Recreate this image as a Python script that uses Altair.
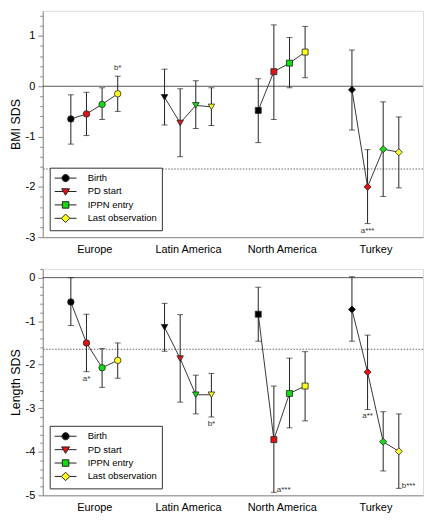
import json
import altair as alt
import numpy as np
import pandas as pd

regions = ["Europe", "Latin America", "North America", "Turkey"]
times = ["Birth", "PD start", "IPPN entry", "Last observation"]

# BMI SDS (mean, lower, upper) per region x time point
bmi_mean = [-0.65, -0.55, -0.36, -0.15,
            -0.22, -0.73, -0.38, -0.41,
            -0.48, 0.29, 0.46, 0.68,
            -0.07, -2.00, -1.25, -1.31]
bmi_lo = [-1.15, -0.98, -0.66, -0.50,
          -0.77, -1.40, -0.84, -0.78,
          -1.12, -0.66, -0.03, 0.17,
          -0.87, -2.73, -2.19, -2.02]
bmi_hi = [-0.17, -0.12, -0.03, 0.20,
          0.34, -0.05, 0.11, -0.03,
          0.15, 1.22, 0.97, 1.19,
          0.72, -1.26, -0.31, -0.61]

# Length SDS
len_mean = [-0.56, -1.50, -2.07, -1.90,
            -1.14, -1.86, -2.69, -2.69,
            -0.84, -3.72, -2.66, -2.49,
            -0.73, -2.17, -3.77, -3.99]
len_lo = [-1.10, -2.16, -2.52, -2.31,
          -1.69, -2.86, -3.13, -3.20,
          -1.46, -4.93, -3.45, -3.29,
          -1.46, -3.03, -4.44, -4.84]
len_hi = [0.00, -0.84, -1.63, -1.50,
          -0.59, -0.85, -2.24, -2.20,
          -0.22, -2.49, -1.85, -1.70,
          0.02, -1.32, -3.08, -3.13]

ref_lines = [0.0, -1.645]

bmi_notes = [("Europe", "Last observation", "b*", "above"),
             ("Turkey", "PD start", "a***", "below")]
len_notes = [("Europe", "PD start", "a*", "below"),
             ("Latin America", "Last observation", "b*", "below"),
             ("North America", "PD start", "a***", "right"),
             ("Turkey", "PD start", "a**", "below"),
             ("Turkey", "Last observation", "b***", "right")]

colors = ["#000000", "#E01414", "#14DC14", "#FFFF1E"]
region_shapes = ["circle", "triangle-down", "square", "diamond"]
region_sizes = [42, 42, 36, 50]

# legend symbols: line + marker (unit = sqrt(symbolSize)/2 px)
legend_paths = [
    "M-2.2,0H-0.72M0.72,0H2.2M-0.72,0A0.72,0.72,0,1,1,0.72,0A0.72,0.72,0,1,1,-0.72,0Z",
    "M-2.2,0H-0.46M0.46,0H2.2M-0.8,-0.55L0.8,-0.55L0,0.75Z",
    "M-2.2,0H-0.65M0.65,0H2.2M-0.65,-0.65H0.65V0.65H-0.65Z",
    "M-2.2,0H-0.85M0.85,0H2.2M0,-0.85L0.85,0L0,0.85L-0.85,0Z",
]

FONT = "Liberation Sans, Arial, Helvetica, sans-serif"


def make_df(mean, lo, hi, notes):
    rows = []
    note_map = {(r, t): (txt, pos) for r, t, txt, pos in notes}
    for ri, r in enumerate(regions):
        for ti, t in enumerate(times):
            k = ri * len(times) + ti
            txt, pos = note_map.get((r, t), ("", "none"))
            rows.append(dict(region=r, time=t, xpos=ri * 6 + ti + 1,
                             mean=mean[k], lo=lo[k], hi=hi[k],
                             note=txt, pos=pos))
    return pd.DataFrame(rows)


centers = [ri * 6 + 2.5 for ri in range(len(regions))]
x_label_expr = f"{json.dumps(regions)}[round((datum.value - 2.5) / 6)]"
major_test = "abs(datum.value - round(datum.value)) < 0.001"


def panel(df, title, ydomain):
    base = alt.Chart(df)
    yticks = [float(v) for v in np.round(np.arange(ydomain[0], ydomain[1] + 1e-9, 0.2), 1)]
    xsc = alt.Scale(domain=[-0.8, 23.55], nice=False, zero=False)
    ysc = alt.Scale(domain=ydomain, nice=False, zero=False)
    x_ax = alt.Axis(values=centers, labelExpr=x_label_expr, title=None,
                    ticks=False, grid=False, labelFontSize=11,
                    labelPadding=6, labelFlush=False)
    y_ax = alt.Axis(values=yticks,
                    labelExpr=f"{major_test} ? '' + round(datum.value) : ''",
                    tickSize={"condition": {"test": major_test, "value": 5}, "value": 3},
                    title=title, grid=False, labelFontSize=11, labelPadding=3,
                    titleFontSize=12.5, titleFontWeight="normal", titlePadding=3,
                    labelFlush=False)

    def X():
        return alt.X("xpos:Q", scale=xsc, axis=x_ax)

    def Y(field):
        return alt.Y(field, scale=ysc, axis=y_ax)

    color = alt.Color("time:N", scale=alt.Scale(domain=times, range=colors),
                      legend=alt.Legend(title=None, orient="bottom-left", offset=7,
                                        padding=5, strokeColor="#333", fillColor="white",
                                        labelFontSize=9.5, labelFont=FONT, symbolSize=100,
                                        symbolOffset=5.5, labelOffset=16.7, rowPadding=1.5,
                                        cornerRadius=0, symbolStrokeWidth=1,
                                        symbolStrokeColor="#222", labelColor="black"))

    refs = pd.DataFrame({"y": ref_lines})
    zero = alt.Chart(refs).transform_filter("datum.y == 0").mark_rule(
        color="#555", strokeWidth=1).encode(y=Y("y:Q"))
    p5 = alt.Chart(refs).transform_filter("datum.y != 0").mark_rule(
        color="#666", strokeWidth=1, strokeDash=[1.5, 1.5]).encode(y=Y("y:Q"))

    bars = base.mark_rule(color="#222", strokeWidth=1).encode(
        x=X(), y=Y("lo:Q"), y2="hi:Q")
    cap_lo = base.mark_tick(orient="horizontal", size=6, thickness=1, color="#222").encode(
        x=X(), y=Y("lo:Q"))
    cap_hi = base.mark_tick(orient="horizontal", size=6, thickness=1, color="#222").encode(
        x=X(), y=Y("hi:Q"))
    line = base.mark_line(color="#222", strokeWidth=0.9).encode(
        x=X(), y=Y("mean:Q"), detail="region:N", order="xpos:Q")

    pts = []
    for r, shp, sz in zip(regions, region_shapes, region_sizes):
        pts.append(base.transform_filter(alt.datum.region == r).mark_point(
            shape=shp, filled=True, size=sz, stroke="#222", strokeWidth=0.8,
            opacity=1).encode(x=X(), y=Y("mean:Q"), color=color))

    legend_layer = base.transform_filter("false").mark_point(
        filled=True, size=100, stroke="#222", strokeWidth=1, opacity=1).encode(
        x=X(), y=Y("mean:Q"), color=color,
        shape=alt.Shape("time:N", scale=alt.Scale(domain=times, range=legend_paths)))

    tstyle = dict(fontSize=8, color="#333", font=FONT)
    above = base.transform_filter("datum.pos == 'above'").mark_text(
        baseline="bottom", dy=-4, **tstyle).encode(
        x=X(), y=Y("hi:Q"), text="note:N")
    below = base.transform_filter("datum.pos == 'below'").mark_text(
        baseline="top", dy=3, **tstyle).encode(
        x=X(), y=Y("lo:Q"), text="note:N")
    right = base.transform_filter("datum.pos == 'right'").mark_text(
        baseline="middle", align="left", dx=3, dy=-2, **tstyle).encode(
        x=X(), y=Y("lo:Q"), text="note:N")

    return alt.layer(zero, p5, bars, cap_lo, cap_hi, line, *pts, legend_layer,
                     above, below, right).properties(width=383, height=228)


top = panel(make_df(bmi_mean, bmi_lo, bmi_hi, bmi_notes), "BMI SDS", [-3, 1.5])
bottom = panel(make_df(len_mean, len_lo, len_hi, len_notes), "Length SDS", [-5, 0.2])

chart = alt.vconcat(top, bottom, spacing=13).resolve_scale(
    color="independent", shape="independent").properties(padding=0).configure_view(
    stroke="#333", strokeWidth=1).configure_axis(
    domainColor="black", tickColor="black", labelColor="black", titleColor="black",
    labelFont=FONT, titleFont=FONT).configure(font=FONT)

chart.save("out.html", embed_options={"renderer": "svg", "actions": False})
